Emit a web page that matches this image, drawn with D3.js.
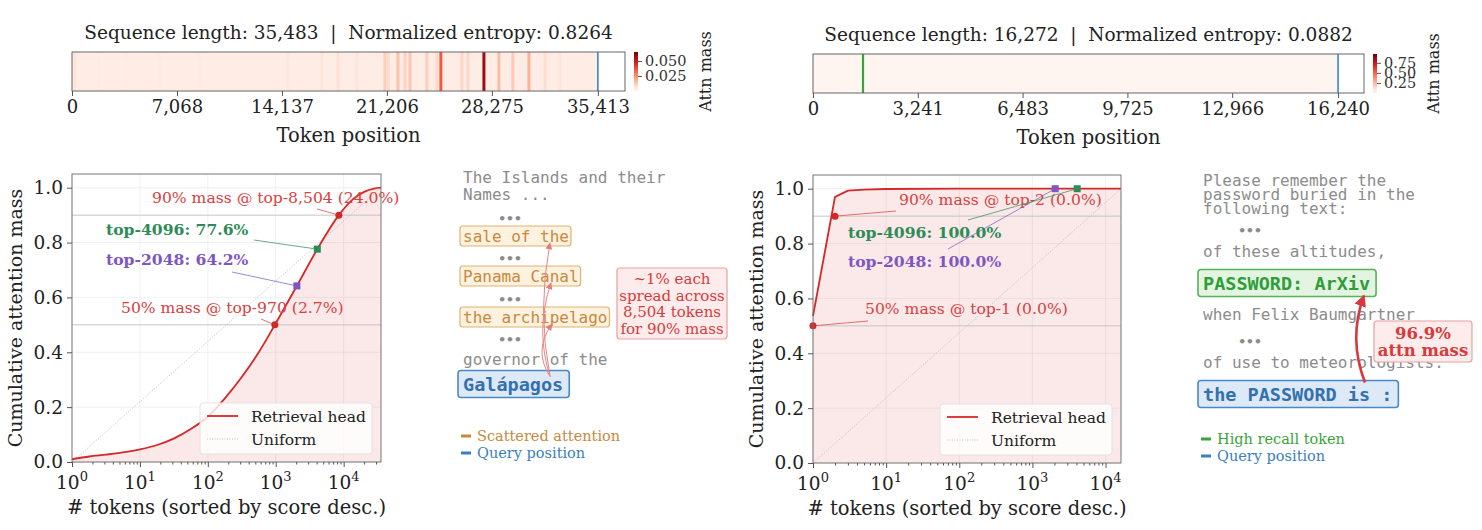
<!DOCTYPE html>
<html>
<head>
<meta charset="utf-8">
<script src="https://cdn.jsdelivr.net/npm/d3@7"></script>
<style>
  body { margin: 0; background: #fff; }
  svg { display: block; }
  .pre { white-space: pre; }
</style>
</head>
<body>
<svg id="fig" width="1482" height="530"></svg>
<script>
// ---------------- data ----------------
// left example: scattered retrieval head
const leftSeqLen = 35483;
const leftEntropy = "0.8264";
const leftQueryPos = 35413;
const leftStripTicks = [0, 7068, 14137, 21206, 28275, 35413];
const leftStripBase = 0.003;
const leftStripePos = [200, 1820, 3640, 5900, 8600, 14540, 16830, 17910, 19190, 21070, 21300, 21950, 22420, 22760, 23900, 24570, 24840, 26260, 26660, 27740, 28750, 29690, 30770, 31850, 32860];
const leftStripeVal = [0.006, 0.004, 0.004, 0.004, 0.004, 0.005, 0.006, 0.007, 0.006, 0.012, 0.009, 0.015, 0.011, 0.014, 0.012, 0.009, 0.036, 0.010, 0.010, 0.058, 0.016, 0.013, 0.018, 0.008, 0.006];
const leftCbarTicks = [0.025, 0.050];
const leftCbarMax = 0.065;
const leftRank = [1, 1.8, 3.2, 5.6, 10, 18, 32, 56, 100, 178, 316, 562, 970, 2048, 4096, 8504, 14000, 20000, 28000, 35483];
const leftCum = [0.010, 0.020, 0.027, 0.035, 0.046, 0.062, 0.086, 0.120, 0.165, 0.232, 0.310, 0.400, 0.500, 0.642, 0.776, 0.900, 0.960, 0.985, 0.997, 1.000];
const leftThreshK = [970, 8504];
const leftThreshV = [0.5, 0.9];
const leftThreshText = ["50% mass @ top-970 (2.7%)", "90% mass @ top-8,504 (24.0%)"];
const leftBudgetK = [2048, 4096];
const leftBudgetV = [0.642, 0.776];
const leftBudgetText = ["top-2048: 64.2%", "top-4096: 77.6%"];

// right example: focused retrieval head
const rightSeqLen = 16272;
const rightEntropy = "0.0882";
const rightQueryPos = 16240;
const rightRecallPos = 1547;
const rightStripTicks = [0, 3241, 6483, 9725, 12966, 16240];
const rightStripBase = 0.0;
const rightStripePos = [1547];
const rightStripeVal = [0.969];
const rightCbarTicks = [0.25, 0.50, 0.75];
const rightCbarMax = 0.969;
const rightRank = [1, 2, 3, 5, 10, 100, 1000, 16272];
const rightCum = [0.536, 0.970, 0.993, 0.997, 0.999, 1.000, 1.000, 1.000];
const rightThreshK = [1, 2];
const rightThreshV = [0.5, 0.9];
const rightThreshText = ["50% mass @ top-1 (0.0%)", "90% mass @ top-2 (0.0%)"];
const rightBudgetK = [2048, 4096];
const rightBudgetV = [1.0, 1.0];
const rightBudgetText = ["top-2048: 100.0%", "top-4096: 100.0%"];

// ---------------- styles ----------------
const SERIF = "DejaVu Serif, serif";
const MONO = "DejaVu Sans Mono, monospace";
const RED = "#d62728", GREEN = "#2e8b57", PURPLE = "#7e57c2", BLUE = "#3a85c7";
const GRAY_TXT = "#8c8c8c";

const svg = d3.select("#fig");
svg.append("rect").attr("width", 1482).attr("height", 530).attr("fill", "#fff");

const defs = svg.append("defs");
function arrowMarker(id, color, size) {
  defs.append("marker").attr("id", id)
    .attr("viewBox", "0 0 10 10").attr("refX", 9).attr("refY", 5)
    .attr("markerWidth", size).attr("markerHeight", size)
    .attr("markerUnits", "userSpaceOnUse")
    .attr("orient", "auto")
    .append("path").attr("d", "M0,0 L10,5 L0,10 z").attr("fill", color);
}
arrowMarker("arrThin", "#e07d7d", 7);
arrowMarker("arrThick", "#d9363e", 12);

// ---------------- heat strip ----------------
function strip(o) {
  const g = svg.append("g");
  const x = d3.scaleLinear().domain([0, o.extent]).range([o.x0, o.x1]);
  const c = d3.scaleSequential(d3.interpolateReds).domain([0, o.vmax]);
  const h = o.y1 - o.y0;

  g.append("text").attr("class", "pre").attr("x", (o.x0 + o.x1) / 2).attr("y", o.y0 - 13)
    .attr("text-anchor", "middle").attr("font-family", SERIF).attr("font-size", 18.5)
    .attr("fill", "#222")
    .text(`Sequence length: ${d3.format(",")(o.seqLen)}  |  Normalized entropy: ${o.entropy}`);

  g.append("rect").attr("x", x(0)).attr("y", o.y0)
    .attr("width", x(o.queryPos) - x(0)).attr("height", h).attr("fill", c(o.base));
  const bw = o.binW;
  g.selectAll("rect.stripe").data(o.pos).join("rect").attr("class", "stripe")
    .attr("x", d => x(d - bw / 2)).attr("y", o.y0)
    .attr("width", x(bw) - x(0)).attr("height", h)
    .attr("fill", (d, i) => c(o.val[i]));
  if (o.recall !== undefined) {
    g.append("line").attr("x1", x(o.recall)).attr("x2", x(o.recall))
      .attr("y1", o.y0).attr("y2", o.y1).attr("stroke", "#3aa43a").attr("stroke-width", 2.2);
  }
  g.append("line").attr("x1", x(o.queryPos)).attr("x2", x(o.queryPos))
    .attr("y1", o.y0).attr("y2", o.y1).attr("stroke", BLUE).attr("stroke-width", 1.6);
  g.append("rect").attr("x", o.x0).attr("y", o.y0).attr("width", o.x1 - o.x0).attr("height", h)
    .attr("fill", "none").attr("stroke", "#666").attr("stroke-width", 1);

  const ax = g.append("g").attr("transform", `translate(0,${o.y1})`)
    .call(d3.axisBottom(x).tickValues(o.ticks).tickSize(5).tickPadding(4).tickFormat(d3.format(",")));
  ax.select(".domain").remove();
  ax.selectAll("line").attr("stroke", "#555");
  ax.selectAll("text").attr("font-family", SERIF).attr("font-size", 18).attr("fill", "#222");

  g.append("text").attr("x", (o.x0 + o.x1) / 2).attr("y", o.y1 + 51)
    .attr("text-anchor", "middle").attr("font-family", SERIF).attr("font-size", 19.5)
    .attr("fill", "#222").text("Token position");

  // colorbar
  const cx = o.x1 + 9, cw = 4;
  const cy = d3.scaleLinear().domain([0, o.vmax]).range([o.y1, o.y0]);
  const gid = "cb" + o.id;
  const grad = defs.append("linearGradient").attr("id", gid)
    .attr("x1", 0).attr("y1", 1).attr("x2", 0).attr("y2", 0);
  d3.range(0, 1.01, 0.1).forEach(t => grad.append("stop").attr("offset", t).attr("stop-color", d3.interpolateReds(t)));
  g.append("rect").attr("x", cx).attr("y", o.y0).attr("width", cw).attr("height", h)
    .attr("fill", `url(#${gid})`);
  const cax = g.append("g").attr("transform", `translate(${cx + cw},0)`)
    .call(d3.axisRight(cy).tickValues(o.cbTicks).tickSize(4).tickPadding(3).tickFormat(o.cbFmt));
  cax.select(".domain").remove();
  cax.selectAll("line").attr("stroke", "#555");
  cax.selectAll("text").attr("font-family", SERIF).attr("font-size", 14.5).attr("fill", "#333");
  g.append("text").attr("transform", `translate(${o.cbLabelX},${(o.y0 + o.y1) / 2}) rotate(-90)`)
    .attr("text-anchor", "middle").attr("dominant-baseline", "central")
    .attr("font-family", SERIF).attr("font-size", 16).attr("fill", "#222").text("Attn mass");
}

strip({ id: "L", x0: 72, x1: 625, y0: 52, y1: 91, extent: 37240, seqLen: leftSeqLen, entropy: leftEntropy,
  queryPos: leftQueryPos, ticks: leftStripTicks, base: leftStripBase, pos: leftStripePos, val: leftStripeVal,
  binW: 200, vmax: leftCbarMax, cbTicks: leftCbarTicks, cbFmt: d3.format(".3f"), cbLabelX: 705 });
strip({ id: "R", x0: 813, x1: 1364, y0: 54, y1: 93, extent: 17043, seqLen: rightSeqLen, entropy: rightEntropy,
  queryPos: rightQueryPos, recall: rightRecallPos, ticks: rightStripTicks, base: rightStripBase,
  pos: rightStripePos, val: rightStripeVal,
  binW: 40, vmax: rightCbarMax, cbTicks: rightCbarTicks, cbFmt: d3.format(".2f"), cbLabelX: 1433 });

// ---------------- cumulative mass plot ----------------
function cumPlot(o) {
  const g = svg.append("g");
  const x = d3.scaleLog().domain([1, o.seqLen]).range([o.x0, o.x1]);
  const y = d3.scaleLinear().domain([0, 1.05]).range([o.y1, o.y0]);
  const decades = d3.range(0, Math.floor(Math.log10(o.seqLen)) + 1).map(e => Math.pow(10, e));
  const minors = [];
  decades.forEach(d => { for (let m = 2; m <= 9; m++) if (d * m <= o.seqLen) minors.push(d * m); });
  const yt = [0, 0.2, 0.4, 0.6, 0.8, 1.0];

  // grid
  g.selectAll("line.gx").data(decades).join("line")
    .attr("x1", d => x(d)).attr("x2", d => x(d)).attr("y1", o.y0).attr("y2", o.y1)
    .attr("stroke", "#ececec").attr("stroke-width", 0.8);
  g.selectAll("line.gy").data(yt).join("line")
    .attr("x1", o.x0).attr("x2", o.x1).attr("y1", d => y(d)).attr("y2", d => y(d))
    .attr("stroke", "#ececec").attr("stroke-width", 0.8);

  // fill + reference lines
  const area = d3.area().x((d, i) => x(o.rank[i])).y0(y(0)).y1(d => y(d)).curve(o.curve);
  g.append("path").datum(o.cum).attr("d", area).attr("fill", RED).attr("fill-opacity", 0.1);
  g.selectAll("line.ref").data(o.threshV).join("line")
    .attr("x1", o.x0).attr("x2", o.x1).attr("y1", d => y(d)).attr("y2", d => y(d))
    .attr("stroke", "#c4c4c4").attr("stroke-width", 1);
  g.append("line").attr("x1", x(1)).attr("y1", y(0)).attr("x2", x(o.seqLen)).attr("y2", y(1))
    .attr("stroke", "#b0b0b0").attr("stroke-width", 0.8).attr("stroke-dasharray", "1,1.5");

  const line = d3.line().x((d, i) => x(o.rank[i])).y(d => y(d)).curve(o.curve);
  g.append("path").datum(o.cum).attr("d", line).attr("fill", "none")
    .attr("stroke", RED).attr("stroke-width", 1.8);

  // threshold annotations
  o.threshK.forEach((k, i) => {
    const L = o.threshLab[i];
    g.append("line").attr("x1", L.lx).attr("y1", L.ly).attr("x2", x(k)).attr("y2", y(o.threshV[i]))
      .attr("stroke", "#e06060").attr("stroke-width", 0.9);
    g.append("circle").attr("cx", x(k)).attr("cy", y(o.threshV[i])).attr("r", 3.5).attr("fill", RED);
    g.append("text").attr("x", L.tx).attr("y", L.ty + 5.5).attr("font-family", SERIF)
      .attr("font-size", 15.6).attr("fill", "#d94040").text(o.threshText[i]);
  });
  const bcol = [PURPLE, GREEN];
  o.budgetK.forEach((k, i) => {
    const L = o.budgetLab[i];
    g.append("line").attr("x1", L.lx).attr("y1", L.ly).attr("x2", x(k)).attr("y2", y(o.budgetV[i]))
      .attr("stroke", bcol[i]).attr("stroke-width", 0.9).attr("stroke-opacity", 0.8);
    g.append("rect").attr("x", x(k) - 3.5).attr("y", y(o.budgetV[i]) - 3.5).attr("width", 7).attr("height", 7)
      .attr("fill", bcol[i]);
    g.append("text").attr("x", L.tx).attr("y", L.ty + 5.5).attr("font-family", SERIF)
      .attr("font-size", 15.6).attr("font-weight", "bold").attr("fill", bcol[i]).text(o.budgetText[i]);
  });

  // frame
  g.append("rect").attr("x", o.x0).attr("y", o.y0).attr("width", o.x1 - o.x0).attr("height", o.y1 - o.y0)
    .attr("fill", "none").attr("stroke", "#777").attr("stroke-width", 1);

  // axes
  const ax = g.append("g").attr("transform", `translate(0,${o.y1})`)
    .call(d3.axisBottom(x).tickValues(decades).tickSize(5).tickFormat(""));
  const axm = g.append("g").attr("transform", `translate(0,${o.y1})`)
    .call(d3.axisBottom(x).tickValues(minors).tickSize(2.5).tickFormat(""));
  [ax, axm].forEach(a => { a.select(".domain").remove(); a.selectAll("line").attr("stroke", "#555"); });
  decades.forEach((d, e) => {
    const t = g.append("text").attr("x", x(d)).attr("y", o.y1 + 27).attr("text-anchor", "middle")
      .attr("font-family", SERIF).attr("font-size", 18.5).attr("fill", "#222");
    t.append("tspan").text("10");
    t.append("tspan").attr("dy", -8).attr("font-size", 13).text(e);
  });
  const ay = g.append("g").attr("transform", `translate(${o.x0},0)`)
    .call(d3.axisLeft(y).tickValues(yt).tickSize(5).tickPadding(4).tickFormat(d3.format(".1f")));
  ay.select(".domain").remove();
  ay.selectAll("line").attr("stroke", "#555");
  ay.selectAll("text").attr("font-family", SERIF).attr("font-size", 18.5).attr("fill", "#222");

  g.append("text").attr("x", (o.x0 + o.x1) / 2).attr("y", o.y1 + 52).attr("text-anchor", "middle")
    .attr("font-family", SERIF).attr("font-size", 19.5).attr("fill", "#222")
    .text("# tokens (sorted by score desc.)");
  g.append("text").attr("transform", `translate(${o.x0 - 57},${(o.y0 + o.y1) / 2}) rotate(-90)`)
    .attr("text-anchor", "middle").attr("dominant-baseline", "central")
    .attr("font-family", SERIF).attr("font-size", 19).attr("fill", "#222")
    .text("Cumulative attention mass");

  // legend
  const lx = o.x1 - 181, ly = o.y1 - 59;
  g.append("rect").attr("x", lx).attr("y", ly).attr("width", 172).attr("height", 51).attr("rx", 3)
    .attr("fill", "#fff").attr("fill-opacity", 0.8).attr("stroke", "#e2e2e2");
  g.append("line").attr("x1", lx + 7).attr("x2", lx + 38).attr("y1", ly + 13).attr("y2", ly + 13)
    .attr("stroke", RED).attr("stroke-width", 1.8);
  g.append("line").attr("x1", lx + 7).attr("x2", lx + 38).attr("y1", ly + 36).attr("y2", ly + 36)
    .attr("stroke", "#b0b0b0").attr("stroke-width", 0.8).attr("stroke-dasharray", "1,1.5");
  ["Retrieval head", "Uniform"].forEach((s, i) => {
    g.append("text").attr("x", lx + 51).attr("y", ly + 18.5 + i * 23).attr("font-family", SERIF)
      .attr("font-size", 15.5).attr("fill", "#222").text(s);
  });
}

cumPlot({ x0: 72, x1: 381, y0: 174, y1: 462, seqLen: leftSeqLen, rank: leftRank, cum: leftCum,
  curve: d3.curveMonotoneX,
  threshK: leftThreshK, threshV: leftThreshV, threshText: leftThreshText,
  threshLab: [{ tx: 121, ty: 307, lx: 261, ly: 319 }, { tx: 152, ty: 197, lx: 317, ly: 209 }],
  budgetK: leftBudgetK, budgetV: leftBudgetV, budgetText: leftBudgetText,
  budgetLab: [{ tx: 106, ty: 259, lx: 232, ly: 272 }, { tx: 106, ty: 229, lx: 254, ly: 240 }] });

cumPlot({ x0: 813, x1: 1121, y0: 175, y1: 463, seqLen: rightSeqLen, rank: rightRank, cum: rightCum,
  curve: d3.curveLinear,
  threshK: rightThreshK, threshV: rightThreshV, threshText: rightThreshText,
  threshLab: [{ tx: 865, ty: 308, lx: 868, ly: 321 }, { tx: 899, ty: 199, lx: 896, ly: 211 }],
  budgetK: rightBudgetK, budgetV: rightBudgetV, budgetText: rightBudgetText,
  budgetLab: [{ tx: 848, ty: 261, lx: 948, ly: 249 }, { tx: 848, ty: 232, lx: 968, ly: 220 }] });

// ---------------- text panels ----------------
const leftLines = [
  { t: "The Islands and their", y: 177, k: "plain" },
  { t: "Names ...", y: 194, k: "plain" },
  { t: "•••", y: 218, k: "dots" },
  { t: "sale of the", y: 236, k: "scatter" },
  { t: "•••", y: 258, k: "dots" },
  { t: "Panama Canal", y: 276, k: "scatter" },
  { t: "•••", y: 299, k: "dots" },
  { t: "the archipelago", y: 317, k: "scatter" },
  { t: "•••", y: 339, k: "dots" },
  { t: "governor of the", y: 359, k: "plain" },
  { t: "Galápagos", y: 384, k: "query" }
];
const rightLines = [
  { t: "Please remember the", y: 180, k: "plain" },
  { t: "password buried in the", y: 194, k: "plain" },
  { t: "following text:", y: 208, k: "plain" },
  { t: "•••", y: 230, k: "dots" },
  { t: "of these altitudes,", y: 251, k: "plain" },
  { t: "PASSWORD: ArXiv", y: 283, k: "recall" },
  { t: "when Felix Baumgartner", y: 314, k: "plain" },
  { t: "•••", y: 341, k: "dots" },
  { t: "of use to meteorologists.", y: 362, k: "plain" },
  { t: "the PASSWORD is :", y: 394, k: "query" }
];

const boxStyle = {
  scatter: { text: "#c8893c", fill: "#fdf1df", stroke: "#e3b270", size: 16, weight: "normal", h: 20 },
  query: { text: "#3370b0", fill: "#dde9f6", stroke: "#4a88c8", size: 18.5, weight: "bold", h: 27 },
  recall: { text: "#2f9e3a", fill: "#e3f5e1", stroke: "#55b35a", size: 18.5, weight: "bold", h: 27 }
};

function textPanel(lines, x0, dotsX) {
  const g = svg.append("g");
  const boxes = {};
  lines.forEach(L => {
    if (L.k === "plain") {
      g.append("text").attr("x", x0).attr("y", L.y + 5.5).attr("font-family", MONO)
        .attr("font-size", 16).attr("fill", GRAY_TXT).text(L.t);
    } else if (L.k === "dots") {
      g.append("text").attr("x", dotsX).attr("y", L.y + 5).attr("text-anchor", "middle")
        .attr("font-family", MONO).attr("font-size", 13).attr("font-weight", "bold")
        .attr("fill", "#8c8c8c").text(L.t);
    } else {
      const s = boxStyle[L.k];
      const r = g.append("rect");
      const t = g.append("text").attr("x", x0).attr("y", L.y + s.size * 0.36).attr("font-family", MONO)
        .attr("font-size", s.size).attr("font-weight", s.weight).attr("fill", s.text).text(L.t);
      const w = t.node().getComputedTextLength();
      const padL = s.weight === "bold" ? 5 : 3, padR = s.weight === "bold" ? 6 : 2;
      r.attr("x", x0 - padL).attr("y", L.y - s.h / 2).attr("width", w + padL + padR).attr("height", s.h)
        .attr("rx", 3).attr("fill", s.fill).attr("stroke", s.stroke).attr("stroke-width", s.weight === "bold" ? 1.6 : 1.2);
      boxes[L.t] = { x: x0 - padL, y: L.y - s.h / 2, w: w + padL + padR, h: s.h };
    }
  });
  return { g, boxes };
}

const lp = textPanel(leftLines, 463, 510);
const rp = textPanel(rightLines, 1203, 1250);

// left: thin arrows from query to scattered tokens
const gq = lp.boxes["Galápagos"];
["sale of the", "Panama Canal", "the archipelago"].forEach((k, i) => {
  const b = lp.boxes[k];
  const sx = 550, sy = gq.y + 6;
  const ex = 550 + i, ey = b.y + b.h - 3;
  lp.g.append("path")
    .attr("d", `M${sx},${sy} Q${537 - i * 2},${(sy + ey) / 2} ${ex},${ey}`)
    .attr("fill", "none").attr("stroke", "#e88484").attr("stroke-width", 1)
    .attr("marker-end", "url(#arrThin)");
});
// red note boxes
function noteBox(g, x, y, w, h, lines, size, weight, lineH) {
  g.append("rect").attr("x", x).attr("y", y).attr("width", w).attr("height", h).attr("rx", 3)
    .attr("fill", "#fdeceb").attr("stroke", "#e8a0a0").attr("stroke-width", 1.2);
  lines.forEach((s, i) => {
    g.append("text").attr("x", x + w / 2).attr("y", y + 10 + i * lineH + size * 0.36 + (h - 20 - (lines.length - 1) * lineH) / 2)
      .attr("text-anchor", "middle").attr("font-family", SERIF).attr("font-size", size)
      .attr("font-weight", weight).attr("fill", "#d63b3b").text(s);
  });
}
noteBox(lp.g, 617, 268, 110, 71, ["~1% each", "spread across", "8,504 tokens", "for 90% mass"], 15, "normal", 16.7);

// right: thick arrow query -> password
const rq = rp.boxes["the PASSWORD is :"], rr = rp.boxes["PASSWORD: ArXiv"];
rp.g.append("path")
  .attr("d", `M1365,${rq.y + 2} Q1348,${(rq.y + rr.y + rr.h) / 2} 1364,${rr.y + rr.h - 1}`)
  .attr("fill", "none").attr("stroke", "#d9363e").attr("stroke-width", 2.6)
  .attr("marker-end", "url(#arrThick)");
noteBox(rp.g, 1374, 321, 98, 41, ["96.9%", "attn mass"], 16.5, "bold", 17);

// mini legends
function miniLegend(x, y, items) {
  items.forEach((it, i) => {
    svg.append("line").attr("x1", x).attr("x2", x + 10).attr("y1", y + i * 17).attr("y2", y + i * 17)
      .attr("stroke", it.c).attr("stroke-width", 3);
    svg.append("text").attr("x", x + 16).attr("y", y + i * 17 + 5).attr("font-family", SERIF)
      .attr("font-size", 14.5).attr("fill", it.c).text(it.t);
  });
}
miniLegend(461, 436, [{ t: "Scattered attention", c: "#c8893c" }, { t: "Query position", c: "#3a7fc0" }]);
miniLegend(1201, 439, [{ t: "High recall token", c: "#3aa43a" }, { t: "Query position", c: "#3a7fc0" }]);
</script>
</body>
</html>
